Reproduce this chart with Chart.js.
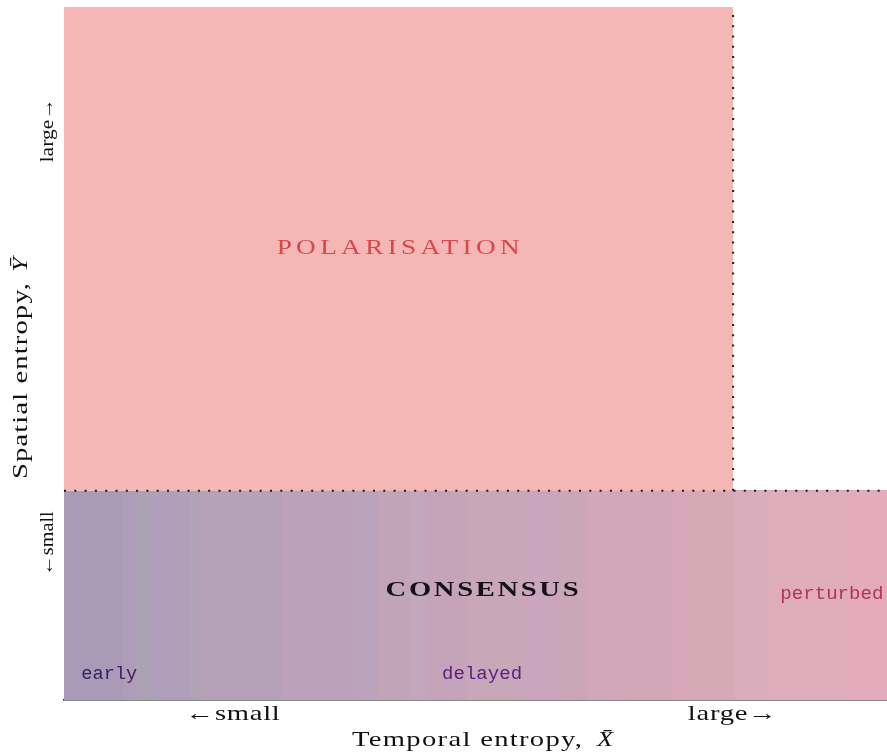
<!DOCTYPE html>
<html>
<head>
<meta charset="utf-8">
<script src="https://cdn.jsdelivr.net/npm/chart.js@4.4.0/dist/chart.umd.min.js"></script>
<style>
html, body { margin: 0; padding: 0; background: #fff; }
#wrap { width: 887px; height: 755px; }
</style>
</head>
<body>
<div id="wrap"><canvas id="phase"></canvas></div>
<script>
// both axes run 0..100 (small -> large entropy)
var xCritical = 81.3;   // temporal entropy threshold
var yCritical = 30.2;   // spatial entropy threshold

// consensus band: where each strip starts along temporal entropy, and its colour
var stripStarts = [0, 7.05, 8.87, 10.81, 15.31, 16.77, 26.49, 35.36, 38.15, 42.04, 44.11,
                   48.97, 56.01, 60.02, 63.67, 67.56, 73.88, 75.7, 81.53, 85.54, 95.26];
var stripColors = ['#a99bb8', '#ae9db9', '#ada1b5', '#b09fba', '#afa3b5', '#b6a2b8', '#bba2ba',
                   '#bca3bd', '#c2a4b8', '#c3a8bd', '#c5a3b8', '#c8a7b8', '#cba5bd', '#caa6b7',
                   '#d3a7ba', '#d2a8b8', '#d9a7ba', '#d6a9b7', '#d9adbc', '#deacbb', '#e3abbb'];

var regionNames = ['POLARISATION', 'CONSENSUS'];
var regionX = [40.6, 50.8];
var regionY = [65.1, 15.9];

var caseNames = ['early', 'delayed', 'perturbed'];
var caseX = [2.1, 50.8, 93.3];
var caseY = [3.8, 3.8, 15.3];

var xTickLabels = ['\u2190small', 'large\u2192'];
var xTickValues = [20.5, 81.2];
var yTickLabels = ['\u2190small', 'large\u2192'];
var yTickValues = [22.6, 82.2];

var SERIF = '"Liberation Serif", "DejaVu Serif", serif';
var MONO = '"Liberation Mono", "DejaVu Sans Mono", monospace';

// text looks: font, colour, width in px it should take up
var textLook = {
  'POLARISATION': { font: '21px ' + SERIF, color: '#d8474a', width: 243 },
  'CONSENSUS': { font: 'bold 22px ' + SERIF, color: '#141018', width: 193 },
  'early': { font: '19px ' + MONO, color: '#3b1d5c', width: 56, align: 'left' },
  'delayed': { font: '19px ' + MONO, color: '#5c1f80', width: 80 },
  'perturbed': { font: '19px ' + MONO, color: '#b3315b', width: 103 }
};

var datasets = [];
datasets.push({
  label: 'x threshold',
  data: [{ x: xCritical, y: yCritical }, { x: xCritical, y: 100 }],
  borderColor: '#1a1a1a', borderWidth: 2, borderDash: [2, 8.3],
  pointRadius: 0, fill: false, order: 0
});
datasets.push({
  label: 'y threshold',
  data: [{ x: 0, y: yCritical }, { x: 100, y: yCritical }],
  borderColor: '#1a1a1a', borderWidth: 2, borderDash: [2, 8.3],
  pointRadius: 0, fill: false, order: 0
});
datasets.push({
  label: 'Polarisation',
  data: [{ x: 0, y: 100 }, { x: xCritical, y: 100 }],
  borderColor: 'rgba(0,0,0,0)', backgroundColor: '#f5b7b5',
  pointRadius: 0, fill: { value: yCritical }, order: 1
});
for (var i = 0; i < stripStarts.length; i++) {
  // each strip runs to the right edge, later strips lie on top (no seams)
  datasets.push({
    label: 'Consensus ' + i,
    data: [{ x: stripStarts[i], y: yCritical }, { x: 100, y: yCritical }],
    borderColor: 'rgba(0,0,0,0)', backgroundColor: stripColors[i],
    pointRadius: 0, fill: 'origin', order: 100 - i
  });
}

// widen text to a given width: stretch glyphs a bit, rest goes into letter spacing
function fitText(ctx, text, x, y, font, color, width, align) {
  ctx.save();
  ctx.font = font;
  ctx.fillStyle = color;
  ctx.textBaseline = 'middle';
  ctx.textAlign = 'left';
  ctx.letterSpacing = '0px';
  var natural = ctx.measureText(text).width;
  var n = Array.from(text).length;
  var s = Math.max(0.85, Math.min(width / natural, 1.3));
  var sp = n > 1 ? (width - natural * s) / (n - 1) / s : 0;
  var start = align === 'left' ? x : x - width / 2;
  ctx.translate(start, y);
  ctx.scale(s, 1);
  ctx.letterSpacing = sp + 'px';
  ctx.fillText(text, 0, 0);
  ctx.restore();
}

function drawSymbol(ctx, text, x, y, font) {
  ctx.save();
  ctx.font = font;
  ctx.fillStyle = '#111';
  ctx.textBaseline = 'middle';
  ctx.textAlign = 'left';
  ctx.translate(x, y);
  ctx.scale(1.2, 1);
  ctx.fillText(text, 0, 0);
  ctx.restore();
}

var labelPlugin = {
  id: 'phaseLabels',
  afterDatasetsDraw: function(chart) {
    var ctx = chart.ctx;
    var xs = chart.scales.x, ys = chart.scales.y;
    var all = regionNames.map(function(n, k) { return [n, regionX[k], regionY[k]]; })
      .concat(caseNames.map(function(n, k) { return [n, caseX[k], caseY[k]]; }));
    all.forEach(function(r) {
      var look = textLook[r[0]];
      fitText(ctx, r[0], xs.getPixelForValue(r[1]), ys.getPixelForValue(r[2]),
        look.font, look.color, look.width, look.align);
    });
  },
  afterDraw: function(chart) {
    var ctx = chart.ctx;
    var xs = chart.scales.x, ys = chart.scales.y;
    var tickFont = '22px ' + SERIF;
    // x ticks
    fitText(ctx, xTickLabels[0], xs.getPixelForValue(xTickValues[0]), 714, tickFont, '#111', 94);
    fitText(ctx, xTickLabels[1], xs.getPixelForValue(xTickValues[1]), 714, tickFont, '#111', 89);
    // x title
    fitText(ctx, 'Temporal entropy,', 352, 740, tickFont, '#111', 230, 'left');
    drawSymbol(ctx, 'X\u0304', 597, 740, 'italic 22px ' + SERIF);

    // y ticks and title, rotated
    [0, 1].forEach(function(k) {
      ctx.save();
      ctx.translate(48, ys.getPixelForValue(yTickValues[k]));
      ctx.rotate(-Math.PI / 2);
      fitText(ctx, yTickLabels[k], 0, 0, '19px ' + SERIF, '#111', 64);
      ctx.restore();
    });
    ctx.save();
    ctx.translate(21, 479);
    ctx.rotate(-Math.PI / 2);
    fitText(ctx, 'Spatial entropy,', 0, 0, tickFont, '#111', 196, 'left');
    drawSymbol(ctx, '\u0232', 207, 0, 'italic 22px ' + SERIF);
    ctx.restore();
  }
};

var ctx = document.getElementById('phase').getContext('2d');
var phaseChart = new Chart(ctx, {
  type: 'line',
  data: { datasets: datasets },
  options: {
    responsive: true,
    maintainAspectRatio: false,
    animation: false,
    layout: { padding: { left: 64, top: 7, right: 0, bottom: 55 } },
    plugins: { legend: { display: false }, tooltip: { enabled: false } },
    scales: {
      x: {
        type: 'linear', min: 0, max: 100,
        grid: { display: false, drawTicks: false },
        ticks: { display: false },
        border: { display: true, color: '#111', width: 1.5 }
      },
      y: {
        type: 'linear', min: 0, max: 100, display: false
      }
    }
  },
  plugins: [labelPlugin]
});
</script>
</body>
</html>
